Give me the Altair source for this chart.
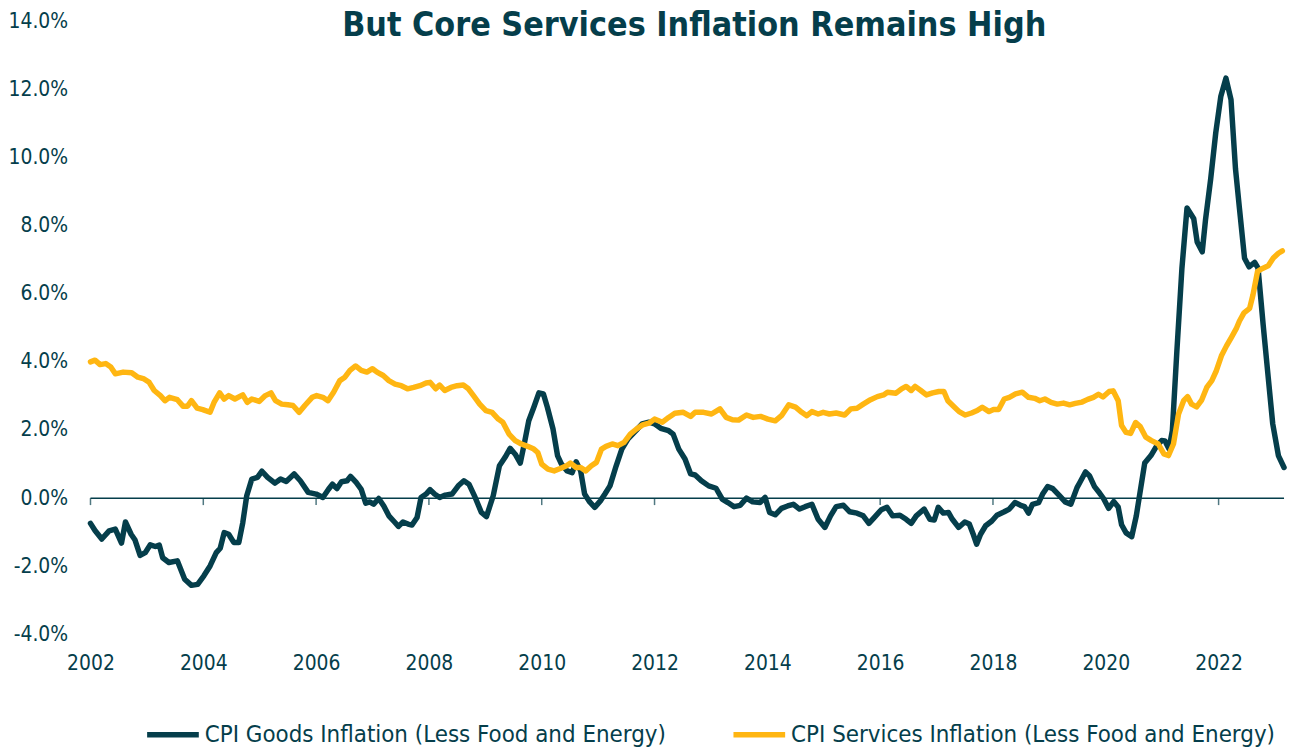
import altair as alt
import pandas as pd

GOODS = "CPI Goods Inflation (Less Food and Energy)"
SERV = "CPI Services Inflation (Less Food and Energy)"

goods_year = [
    2002.00, 2002.08, 2002.20, 2002.33, 2002.44, 2002.55, 2002.62, 2002.72, 2002.79, 2002.88,
    2002.97, 2003.06, 2003.15, 2003.22, 2003.28, 2003.39, 2003.54, 2003.67, 2003.79, 2003.90,
    2004.01, 2004.12, 2004.23, 2004.30, 2004.37, 2004.45, 2004.54, 2004.63, 2004.70, 2004.77,
    2004.86, 2004.96, 2005.04, 2005.14, 2005.27, 2005.37, 2005.47, 2005.61, 2005.72, 2005.86,
    2006.00, 2006.12, 2006.22, 2006.29, 2006.37, 2006.45, 2006.55, 2006.61, 2006.71, 2006.80,
    2006.88, 2006.95, 2007.02, 2007.11, 2007.20, 2007.29, 2007.39, 2007.46, 2007.54, 2007.63,
    2007.70, 2007.79, 2007.86, 2007.95, 2008.02, 2008.10, 2008.19, 2008.29, 2008.41, 2008.53,
    2008.62, 2008.71, 2008.82, 2008.93, 2009.02, 2009.14, 2009.25, 2009.35, 2009.44, 2009.53,
    2009.62, 2009.69, 2009.77, 2009.86, 2009.95, 2010.03, 2010.10, 2010.20, 2010.28, 2010.35,
    2010.45, 2010.54, 2010.61, 2010.69, 2010.76, 2010.85, 2010.94, 2011.04, 2011.12, 2011.21,
    2011.32, 2011.42, 2011.53, 2011.67, 2011.78, 2011.90, 2012.00, 2012.11, 2012.25, 2012.33,
    2012.43, 2012.54, 2012.64, 2012.72, 2012.83, 2012.96, 2013.09, 2013.20, 2013.30, 2013.41,
    2013.52, 2013.63, 2013.74, 2013.87, 2013.96, 2014.04, 2014.14, 2014.25, 2014.36, 2014.46,
    2014.57, 2014.67, 2014.79, 2014.90, 2015.02, 2015.12, 2015.22, 2015.35, 2015.46, 2015.59,
    2015.70, 2015.80, 2015.91, 2016.02, 2016.12, 2016.22, 2016.35, 2016.46, 2016.55, 2016.64,
    2016.78, 2016.88, 2016.96, 2017.03, 2017.12, 2017.21, 2017.28, 2017.39, 2017.50, 2017.58,
    2017.65, 2017.71, 2017.78, 2017.87, 2017.98, 2018.07, 2018.20, 2018.29, 2018.39, 2018.49,
    2018.56, 2018.63, 2018.70, 2018.81, 2018.88, 2018.97, 2019.06, 2019.17, 2019.28, 2019.38,
    2019.49, 2019.54, 2019.64, 2019.71, 2019.80, 2019.89, 2019.96, 2020.05, 2020.14, 2020.22,
    2020.28, 2020.36, 2020.46, 2020.54, 2020.62, 2020.69, 2020.80, 2020.90, 2020.99, 2021.05,
    2021.12, 2021.18, 2021.26, 2021.35, 2021.44, 2021.56, 2021.62, 2021.71, 2021.77, 2021.86,
    2021.95, 2022.04, 2022.13, 2022.22, 2022.30, 2022.37, 2022.46, 2022.54, 2022.64, 2022.70,
    2022.79, 2022.88, 2022.96, 2023.06, 2023.16,
]
goods_value = [
    -0.74, -0.95, -1.20, -0.96, -0.91, -1.32, -0.70, -1.06, -1.23, -1.68,
    -1.60, -1.37, -1.42, -1.38, -1.75, -1.89, -1.84, -2.38, -2.56, -2.53,
    -2.28, -1.99, -1.60, -1.47, -1.01, -1.06, -1.30, -1.30, -0.72, 0.07,
    0.56, 0.61, 0.79, 0.61, 0.44, 0.56, 0.49, 0.71, 0.51, 0.17,
    0.12, 0.02, 0.26, 0.41, 0.28, 0.48, 0.51, 0.64, 0.46, 0.26,
    -0.15, -0.11, -0.18, -0.01, -0.23, -0.52, -0.70, -0.83, -0.70, -0.76,
    -0.79, -0.57, 0.02, 0.12, 0.25, 0.12, 0.02, 0.09, 0.12, 0.38,
    0.51, 0.41, 0.02, -0.42, -0.54, 0.07, 0.95, 1.20, 1.46, 1.29,
    1.03, 1.59, 2.27, 2.67, 3.09, 3.06, 2.67, 2.03, 1.25, 1.00,
    0.80, 0.75, 1.07, 0.80, 0.12, -0.11, -0.27, -0.08, 0.12, 0.36,
    0.95, 1.44, 1.74, 1.98, 2.18, 2.23, 2.18, 2.05, 1.98, 1.88,
    1.44, 1.15, 0.71, 0.68, 0.51, 0.36, 0.29, -0.03, -0.13, -0.25,
    -0.21, 0.00, -0.11, -0.13, 0.02, -0.42, -0.49, -0.30, -0.23, -0.18,
    -0.32, -0.25, -0.18, -0.62, -0.86, -0.52, -0.25, -0.21, -0.40, -0.44,
    -0.52, -0.74, -0.54, -0.34, -0.27, -0.52, -0.50, -0.62, -0.74, -0.52,
    -0.32, -0.62, -0.64, -0.27, -0.44, -0.42, -0.62, -0.86, -0.70, -0.76,
    -1.06, -1.35, -1.06, -0.81, -0.67, -0.50, -0.40, -0.32, -0.13, -0.21,
    -0.25, -0.44, -0.18, -0.13, 0.12, 0.34, 0.28, 0.09, -0.11, -0.18,
    0.31, 0.46, 0.77, 0.66, 0.34, 0.15, -0.01, -0.30, -0.10, -0.26,
    -0.78, -1.02, -1.13, -0.53, 0.30, 1.03, 1.25, 1.53, 1.69, 1.68,
    1.45, 1.98, 4.31, 6.75, 8.52, 8.20, 7.52, 7.23, 8.20, 9.37,
    10.73, 11.80, 12.33, 11.70, 9.66, 8.50, 7.04, 6.79, 6.92, 6.75,
    5.09, 3.54, 2.18, 1.25, 0.90,
]

services_year = [
    2002.00, 2002.08, 2002.17, 2002.27, 2002.36, 2002.44, 2002.58, 2002.73, 2002.84, 2002.95,
    2003.04, 2003.13, 2003.24, 2003.32, 2003.40, 2003.54, 2003.64, 2003.72, 2003.79, 2003.89,
    2003.99, 2004.12, 2004.19, 2004.29, 2004.37, 2004.45, 2004.56, 2004.70, 2004.78, 2004.86,
    2004.99, 2005.10, 2005.20, 2005.28, 2005.39, 2005.50, 2005.59, 2005.70, 2005.80, 2005.93,
    2006.01, 2006.12, 2006.21, 2006.31, 2006.42, 2006.51, 2006.60, 2006.70, 2006.80, 2006.90,
    2007.00, 2007.08, 2007.19, 2007.29, 2007.40, 2007.51, 2007.62, 2007.73, 2007.84, 2007.95,
    2008.02, 2008.12, 2008.19, 2008.28, 2008.39, 2008.50, 2008.61, 2008.70, 2008.79, 2008.90,
    2009.01, 2009.12, 2009.23, 2009.31, 2009.42, 2009.53, 2009.64, 2009.75, 2009.86, 2009.93,
    2010.00, 2010.11, 2010.22, 2010.33, 2010.44, 2010.51, 2010.61, 2010.69, 2010.78, 2010.88,
    2010.97, 2011.06, 2011.14, 2011.25, 2011.35, 2011.46, 2011.57, 2011.68, 2011.79, 2011.90,
    2012.00, 2012.14, 2012.25, 2012.36, 2012.51, 2012.64, 2012.72, 2012.87, 2013.01, 2013.16,
    2013.27, 2013.38, 2013.49, 2013.63, 2013.75, 2013.88, 2014.01, 2014.14, 2014.25, 2014.38,
    2014.50, 2014.61, 2014.70, 2014.79, 2014.90, 2014.99, 2015.10, 2015.22, 2015.37, 2015.48,
    2015.59, 2015.70, 2015.83, 2015.95, 2016.06, 2016.13, 2016.28, 2016.38, 2016.46, 2016.55,
    2016.62, 2016.72, 2016.82, 2016.93, 2017.04, 2017.13, 2017.20, 2017.30, 2017.40, 2017.51,
    2017.62, 2017.72, 2017.81, 2017.93, 2018.01, 2018.10, 2018.20, 2018.29, 2018.40, 2018.52,
    2018.63, 2018.74, 2018.83, 2018.92, 2019.03, 2019.14, 2019.25, 2019.36, 2019.46, 2019.58,
    2019.68, 2019.78, 2019.87, 2019.95, 2020.06, 2020.13, 2020.22, 2020.28, 2020.36, 2020.44,
    2020.53, 2020.61, 2020.71, 2020.81, 2020.93, 2021.03, 2021.11, 2021.20, 2021.29, 2021.38,
    2021.45, 2021.52, 2021.61, 2021.70, 2021.79, 2021.88, 2021.96, 2022.05, 2022.14, 2022.23,
    2022.32, 2022.37, 2022.45, 2022.55, 2022.61, 2022.69, 2022.76, 2022.88, 2022.97, 2023.06,
    2023.13,
]
services_value = [
    4.00, 4.05, 3.92, 3.95, 3.85, 3.65, 3.70, 3.68, 3.55, 3.50,
    3.40, 3.16, 3.01, 2.86, 2.96, 2.89, 2.70, 2.70, 2.86, 2.64,
    2.60, 2.52, 2.81, 3.09, 2.91, 3.01, 2.91, 3.03, 2.81, 2.91,
    2.84, 3.01, 3.09, 2.86, 2.76, 2.74, 2.72, 2.52, 2.72, 2.96,
    3.01, 2.96, 2.86, 3.11, 3.45, 3.55, 3.75, 3.88, 3.75, 3.70,
    3.80, 3.70, 3.60, 3.45, 3.35, 3.30, 3.21, 3.25, 3.30, 3.38,
    3.40, 3.21, 3.32, 3.16, 3.25, 3.30, 3.32, 3.21, 3.01, 2.76,
    2.57, 2.52, 2.32, 2.23, 1.88, 1.69, 1.59, 1.52, 1.44, 1.34,
    1.00, 0.85, 0.80, 0.87, 0.95, 1.03, 0.90, 0.90, 0.80, 0.95,
    1.05, 1.44, 1.52, 1.59, 1.54, 1.64, 1.88, 2.03, 2.15, 2.20,
    2.32, 2.23, 2.37, 2.49, 2.52, 2.40, 2.52, 2.52, 2.47, 2.62,
    2.37, 2.30, 2.29, 2.44, 2.37, 2.40, 2.32, 2.27, 2.42, 2.74,
    2.67, 2.52, 2.42, 2.54, 2.47, 2.52, 2.47, 2.50, 2.44, 2.62,
    2.64, 2.76, 2.89, 2.98, 3.03, 3.11, 3.08, 3.21, 3.28, 3.16,
    3.28, 3.16, 3.03, 3.09, 3.13, 3.13, 2.86, 2.70, 2.54, 2.44,
    2.50, 2.57, 2.67, 2.54, 2.60, 2.60, 2.91, 2.96, 3.06, 3.11,
    2.96, 2.93, 2.86, 2.91, 2.81, 2.76, 2.79, 2.74, 2.78, 2.82,
    2.90, 2.96, 3.05, 2.97, 3.13, 3.15, 2.86, 2.13, 1.93, 1.90,
    2.22, 2.10, 1.79, 1.69, 1.59, 1.30, 1.25, 1.59, 2.47, 2.86,
    2.98, 2.76, 2.68, 2.88, 3.25, 3.45, 3.74, 4.18, 4.47, 4.73,
    5.00, 5.20, 5.44, 5.57, 5.97, 6.65, 6.73, 6.82, 7.05, 7.19,
    7.26,
]

x_tick_years = [2002, 2004, 2006, 2008, 2010, 2012, 2014, 2016, 2018, 2020, 2022]
y_tick_values = [-4, -2, 0, 2, 4, 6, 8, 10, 12, 14]
zero_level = [0]

FONT = "DejaVu Sans Condensed, DejaVu Sans, sans-serif"
DARK = "#053e4b"
GOLD = "#ffb612"

df = pd.DataFrame({
    "year": goods_year + services_year,
    "value": goods_value + services_value,
    "series": [GOODS] * len(goods_value) + [SERV] * len(services_value),
})
ticks_df = pd.DataFrame({"year": x_tick_years, "zero": [zero_level[0]] * len(x_tick_years)})
zero_df = pd.DataFrame({"zero": zero_level})

x_scale = alt.Scale(domain=[2002, 2023.16], nice=False, zero=False)
y_scale = alt.Scale(domain=[-4, 14], nice=False)

lines = alt.Chart(df).mark_line(strokeWidth=5.5, strokeCap="round", strokeJoin="round").encode(
    x=alt.X("year:Q", scale=x_scale,
            axis=alt.Axis(values=x_tick_years, format="d", domain=False, ticks=False, grid=False,
                          labelFlush=False, labelPadding=18, title=None)),
    y=alt.Y("value:Q", scale=y_scale,
            axis=alt.Axis(values=y_tick_values,
                          labelExpr="(datum.value < 0 ? '-' : '') + format(abs(datum.value), '.1f') + '%'",
                          domain=False, ticks=False, grid=False, labelPadding=23, title=None)),
    color=alt.Color("series:N", scale=alt.Scale(domain=[GOODS, SERV], range=[DARK, GOLD]),
                    legend=alt.Legend(orient="none", legendX=54, legendY=689, direction="horizontal",
                                      title=None, symbolType="stroke", symbolSize=2704,
                                      symbolStrokeWidth=5.5, labelFontSize=24, labelFont=FONT,
                                      labelColor=DARK, columnPadding=56, labelOffset=3,
                                      labelLimit=700, padding=0)),
)

zero_rule = alt.Chart(zero_df).mark_rule(color=DARK, strokeWidth=1.5).encode(
    y=alt.Y("zero:Q", scale=y_scale)
)

tick_marks = alt.Chart(ticks_df).mark_tick(orient="vertical", size=7, thickness=1.5, color=DARK,
                                          yOffset=3.5).encode(
    x=alt.X("year:Q", scale=x_scale),
    y=alt.Y("zero:Q", scale=y_scale),
)

chart = alt.layer(zero_rule, tick_marks, lines).properties(
    width=1201,
    height=617,
    autosize=alt.AutoSizeParams(type="none"),
    padding={"left": 83, "top": 11, "right": 4, "bottom": 114},
    title=alt.TitleParams("But Core Services Inflation Remains High", font=FONT, fontSize=34,
                          fontWeight="bold", color=DARK, anchor="middle", offset=-60,
                          baseline="alphabetic", dx=7),
).configure_view(stroke=None).configure_axis(
    labelFont=FONT, labelFontSize=21, labelColor=DARK
)

chart.save("out.html", embed_options={"renderer": "svg", "actions": False})
